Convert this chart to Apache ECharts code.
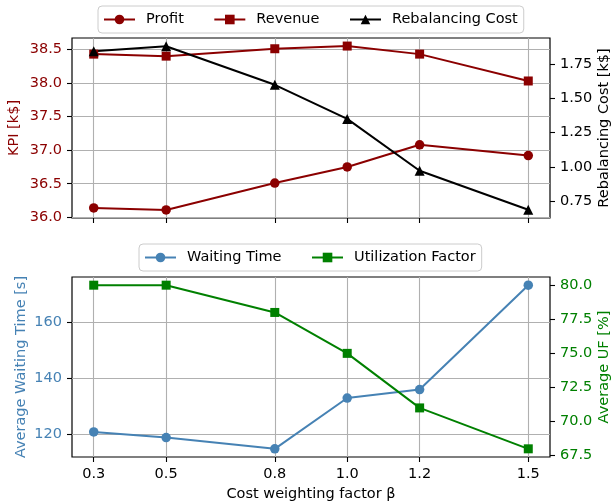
<!DOCTYPE html>
<html><head><meta charset="utf-8">
<script src="https://cdn.jsdelivr.net/npm/echarts@6/dist/echarts.min.js"></script>
<style>html,body{margin:0;padding:0;background:#fff}#c{width:612px;height:504px}</style>
</head><body><div id="c"></div>
<script>
const betaValues = [0.3, 0.5, 0.8, 1.0, 1.2, 1.5];
const profit = [36.14, 36.11, 36.51, 36.75, 37.08, 36.92];
const revenue = [38.43, 38.40, 38.51, 38.55, 38.43, 38.03];
const rebalancingCost = [1.846, 1.882, 1.600, 1.351, 0.972, 0.687];
const waitingTime = [121, 119, 115, 133, 136, 173];
const utilizationFactor = [80, 80, 78, 75, 71, 68];
const xTicks = [0.3, 0.5, 0.8, 1.0, 1.2, 1.5];
const kpiTicks = [36.0, 36.5, 37.0, 37.5, 38.0, 38.5];
const costTicks = [0.75, 1.00, 1.25, 1.50, 1.75];
const waitTicks = [120, 140, 160];
const ufTicks = [67.5, 70.0, 72.5, 75.0, 77.5, 80.0];

const FONT = 'DejaVu Sans';
const FS = 14.5;
const DARKRED = '#8b0000', STEEL = '#4682b4', GREEN = '#008000';
const pairs = ys => betaValues.map((x, i) => [x, ys[i]]);
const tick = { show: true, length: 5, lineStyle: { color: '#000', width: 1.1 } };
const grid = { show: true, borderColor: '#000', borderWidth: 1.2, backgroundColor: 'transparent', containLabel: false, outerBoundsMode: 'none' };
const split = { show: true, lineStyle: { color: '#b0b0b0', width: 1.1 } };

function xAxis(gi, showLabels) {
  return {
    type: 'value', gridIndex: gi, min: 0.24, max: 1.56,
    axisLine: { show: false },
    axisTick: Object.assign({ customValues: xTicks }, tick),
    axisLabel: { show: showLabels, customValues: xTicks, formatter: v => v.toFixed(1), margin: 10, color: '#000', fontSize: FS, fontFamily: FONT },
    splitLine: split,
    name: showLabels ? 'Cost weighting factor β' : '', nameLocation: 'middle', nameGap: 30, nameMoveOverlap: false,
    nameTextStyle: { color: '#000', fontSize: FS, fontFamily: FONT }
  };
}
function yAxis(gi, pos, min, max, ticks, dec, color, name, gap, grid) {
  return {
    type: 'value', gridIndex: gi, position: pos, min: min, max: max,
    axisLine: { show: false },
    axisTick: Object.assign({ customValues: ticks }, tick),
    axisLabel: { customValues: ticks, formatter: v => v.toFixed(dec), margin: 10, color: color, fontSize: FS, fontFamily: FONT },
    splitLine: grid ? split : { show: false },
    name: name, nameLocation: 'middle', nameGap: gap, nameRotate: 90, nameMoveOverlap: false,
    nameTextStyle: { color: color, fontSize: FS, fontFamily: FONT }
  };
}
function line(name, xi, yi, data, color, symbol, size) {
  return {
    name: name, type: 'line', xAxisIndex: xi, yAxisIndex: yi, data: data,
    symbol: symbol, symbolSize: size, showSymbol: true,
    lineStyle: { color: color, width: 2 }, itemStyle: { color: color, borderWidth: 0 },
    emphasis: { disabled: true }
  };
}
const legendBase = {
  orient: 'horizontal', itemWidth: 31, itemHeight: 12, itemGap: 29.5,
  padding: [6, 6, 6, 5], backgroundColor: 'rgba(255,255,255,0.8)',
  borderColor: '#cccccc', borderWidth: 1, borderRadius: 4,
  textStyle: { color: '#000', fontSize: FS, fontFamily: FONT, padding: [0, 0, 0, 6] }
};

const chart = echarts.init(document.getElementById('c'));
chart.setOption({
  animation: false,
  backgroundColor: '#fff',
  textStyle: { fontFamily: FONT },
  legend: [
    Object.assign({ left: 98, top: 6, data: ['Profit', 'Revenue', 'Rebalancing Cost'] }, legendBase),
    Object.assign({ left: 139, top: 244, data: ['Waiting Time', 'Utilization Factor'] }, legendBase)
  ],
  grid: [
    Object.assign({ left: 72, top: 38, width: 478, height: 180 }, grid),
    Object.assign({ left: 72, top: 277, width: 478, height: 180 }, grid)
  ],
  xAxis: [xAxis(0, false), xAxis(1, true)],
  yAxis: [
    yAxis(0, 'left', 35.99, 38.67, kpiTicks, 1, DARKRED, 'KPI [k$]', 50, true),
    yAxis(0, 'right', 0.627, 1.942, costTicks, 2, '#000', 'Rebalancing Cost [k$]', 47, false),
    yAxis(1, 'left', 112.1, 175.9, waitTicks, 0, STEEL, 'Average Waiting Time [s]', 43, true),
    yAxis(1, 'right', 67.4, 80.6, ufTicks, 1, GREEN, 'Average UF [%]', 47, false)
  ],
  series: [
    line('Profit', 0, 0, pairs(profit), DARKRED, 'circle', 9.5),
    line('Revenue', 0, 0, pairs(revenue), DARKRED, 'rect', 9),
    line('Rebalancing Cost', 0, 1, pairs(rebalancingCost), '#000', 'triangle', 10),
    line('Waiting Time', 1, 2, pairs(waitingTime), STEEL, 'circle', 9.5),
    line('Utilization Factor', 1, 3, pairs(utilizationFactor), GREEN, 'rect', 9)
  ]
});
</script></body></html>
